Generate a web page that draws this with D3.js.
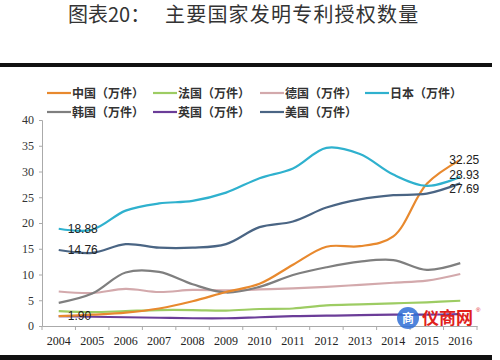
<!DOCTYPE html>
<html>
<head>
<meta charset="utf-8">
<script src="https://cdn.jsdelivr.net/npm/d3@7"></script>
<style>
  body { margin: 0; background: #fff; }
  svg { display: block; }
</style>
</head>
<body>
<svg id="chart"></svg>
<script>
// values
const years = ['2004', '2005', '2006', '2007', '2008', '2009', '2010', '2011', '2012', '2013', '2014', '2015', '2016'];
const yTicks = [0, 5, 10, 15, 20, 25, 30, 35, 40];

const china   = [1.90, 2.2, 2.6, 3.4, 4.8, 6.6, 8.2, 11.9, 15.4, 15.5, 17.4, 27.6, 32.25];
const france  = [2.9, 2.7, 2.9, 3.1, 3.1, 3.0, 3.3, 3.4, 4.0, 4.2, 4.4, 4.6, 4.9];
const germany = [6.7, 6.4, 7.2, 6.6, 7.0, 6.9, 7.1, 7.3, 7.6, 8.0, 8.4, 8.8, 10.1];
const japan   = [18.88, 18.7, 22.4, 23.8, 24.3, 25.9, 28.7, 30.6, 34.6, 33.4, 29.4, 27.2, 28.93];
const korea   = [4.5, 6.3, 10.4, 10.5, 8.1, 6.5, 7.6, 9.9, 11.4, 12.5, 12.8, 10.9, 12.2];
const uk      = [1.9, 1.8, 1.7, 1.6, 1.5, 1.5, 1.7, 1.9, 2.0, 2.1, 2.2, 2.2, 2.3];
const us      = [14.76, 14.2, 15.9, 15.2, 15.2, 15.9, 19.2, 20.3, 23.0, 24.6, 25.4, 25.7, 27.69];

const seriesNames = ['中国（万件）', '法国（万件）', '德国（万件）', '日本（万件）', '韩国（万件）', '英国（万件）', '美国（万件）'];
const seriesValues = [china, france, germany, japan, korea, uk, us];
const seriesColors = ['#E8892E', '#9DCC63', '#D3A9AC', '#2FB1CE', '#7F7F7F', '#6B3D98', '#4A6584'];

// data labels: series index, year index, text
const labelSeries = [0, 3, 6, 0, 3, 6];
const labelYears  = [0, 0, 0, 12, 12, 12];
const labelTexts  = ['1.90', '18.88', '14.76', '32.25', '28.93', '27.69'];

const width = 500, height = 360;
const margin = { top: 120, right: 23, bottom: 34, left: 42 };

const svg = d3.select('#chart')
    .attr('width', width)
    .attr('height', height);

svg.append('rect').attr('width', width).attr('height', height).attr('fill', '#fff');

// title
svg.append('text')
    .attr('x', 68)
    .attr('y', 22)
    .attr('font-family', '"Noto Sans CJK SC"')
    .attr('font-size', 20)
    .attr('fill', '#333')
    .text('图表20：');
svg.append('text')
    .attr('x', 165)
    .attr('y', 22)
    .attr('font-family', '"Noto Sans CJK SC"')
    .attr('font-size', 20)
    .attr('letter-spacing', 1.2)
    .attr('fill', '#333')
    .text('主要国家发明专利授权数量');

// thick rules above and below the chart
svg.append('rect').attr('x', 0).attr('y', 63).attr('width', 492).attr('height', 4).attr('fill', '#111');
svg.append('rect').attr('x', 0).attr('y', 355).attr('width', 492).attr('height', 5).attr('fill', '#111');

const chartW = width - margin.left - margin.right;
const chartH = height - margin.top - margin.bottom;

const g = svg.append('g')
    .attr('transform', `translate(${margin.left},${margin.top})`);

const x = d3.scaleBand()
    .domain(years)
    .range([0, chartW]);

const y = d3.scaleLinear()
    .domain([0, 40])
    .range([chartH, 0]);

// y axis
const yAxis = g.append('g')
    .call(d3.axisLeft(y).tickValues(yTicks).tickSize(3).tickPadding(5));
yAxis.select('.domain').attr('stroke', '#aaa');
yAxis.selectAll('.tick line').attr('stroke', '#aaa');
yAxis.selectAll('text')
    .attr('font-family', '"Liberation Serif"')
    .attr('font-size', 12)
    .attr('fill', '#333');

// x axis, ticks on category boundaries
const xAxis = g.append('g')
    .attr('transform', `translate(0,${chartH})`)
    .call(d3.axisBottom(x).tickSize(0).tickPadding(10));
xAxis.select('.domain').attr('stroke', '#aaa');
xAxis.selectAll('text')
    .attr('font-family', '"Liberation Serif"')
    .attr('font-size', 12)
    .attr('fill', '#222');
xAxis.selectAll('.bound')
    .data(years.concat(['end']))
    .enter()
    .append('line')
    .attr('x1', (d, i) => i * x.step())
    .attr('x2', (d, i) => i * x.step())
    .attr('y1', 0)
    .attr('y2', 4)
    .attr('stroke', '#aaa');

// lines
const line = d3.line()
    .x((d, i) => x(years[i]) + x.bandwidth() / 2)
    .y(d => y(d))
    .curve(d3.curveCatmullRom.alpha(0.5));

// draw in an order so the front lines look like the reference
const drawOrder = [1, 2, 4, 5, 0, 6, 3];
drawOrder.forEach(k => {
    g.append('path')
        .datum(seriesValues[k])
        .attr('fill', 'none')
        .attr('stroke', seriesColors[k])
        .attr('stroke-width', 2.2)
        .attr('d', line);
});

// data labels (small vertical nudges keep the right-hand pair apart)
const labelNudge = [4, 4, 4, 4, 1.5, 9.5];
labelTexts.forEach((t, i) => {
    const s = labelSeries[i], yi = labelYears[i];
    const px = x(years[yi]) + x.bandwidth() / 2;
    const py = y(seriesValues[s][yi]);
    const first = yi === 0;
    g.append('text')
        .attr('x', first ? px + 9 : px - 11)
        .attr('y', py + labelNudge[i])
        .attr('font-family', '"Liberation Sans"')
        .attr('font-size', 12)
        .attr('fill', '#222')
        .text(t);
});

// legend, two rows
const legendX = [47, 153, 260, 365];
const legendY = [93, 112];
seriesNames.forEach((name, i) => {
    const lx = legendX[i % 4], ly = legendY[Math.floor(i / 4)];
    const item = svg.append('g').attr('transform', `translate(${lx},${ly})`);
    item.append('line')
        .attr('x1', 0).attr('x2', 24)
        .attr('y1', 0).attr('y2', 0)
        .attr('stroke', seriesColors[i])
        .attr('stroke-width', 2.2);
    item.append('text')
        .attr('x', 25)
        .attr('y', 4.5)
        .attr('font-family', '"Noto Sans CJK SC"')
        .attr('font-weight', 'bold')
        .attr('font-size', 12)
        .attr('fill', '#333')
        .text(name);
});

// site watermark in the corner
const wm = svg.append('g').attr('transform', 'translate(408,318)');
wm.append('circle').attr('cx', 0).attr('cy', 0).attr('r', 11).attr('fill', '#2f6fd6').attr('opacity', 0.85);
wm.append('text')
    .attr('x', 0).attr('y', 4.5)
    .attr('text-anchor', 'middle')
    .attr('font-family', '"Noto Sans CJK SC"')
    .attr('font-size', 12)
    .attr('font-weight', 'bold')
    .attr('fill', '#fff')
    .text('商');
wm.append('text')
    .attr('x', 14).attr('y', 6)
    .attr('font-family', '"Noto Sans CJK SC"')
    .attr('font-size', 17)
    .attr('font-weight', 'bold')
    .attr('fill', '#e0201b')
    .text('仪商网');
wm.append('text')
    .attr('x', 68).attr('y', -6)
    .attr('font-family', '"Liberation Sans"')
    .attr('font-size', 6)
    .attr('fill', '#e0201b')
    .text('®');
</script>
</body>
</html>
